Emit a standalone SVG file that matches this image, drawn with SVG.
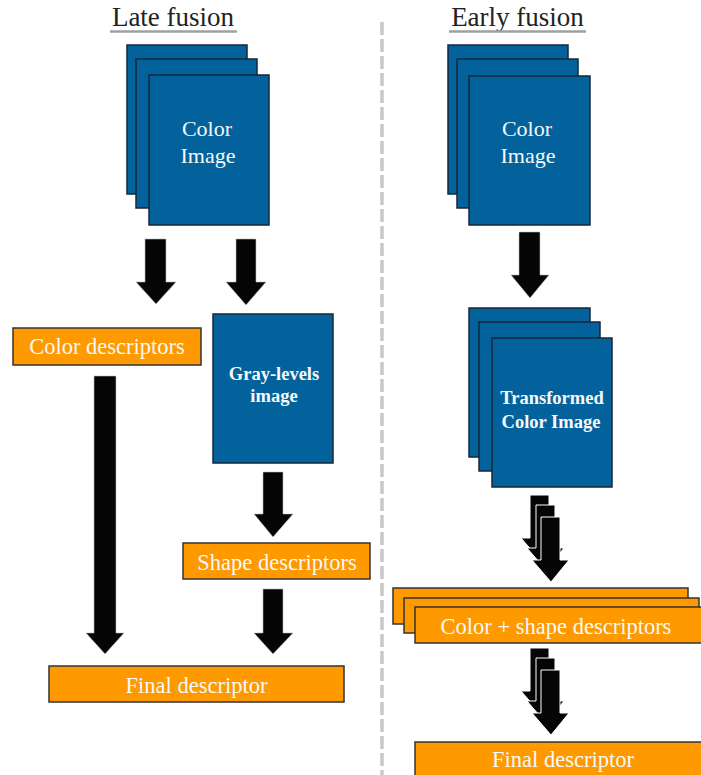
<svg xmlns="http://www.w3.org/2000/svg" width="701" height="775" viewBox="0 0 701 775">
<style>
.blue{fill:#03629b;stroke:#16283a;stroke-width:1.5}
.orange{fill:#fe9a00;stroke:#333;stroke-width:1.5}
text{font-family:'Liberation Serif','DejaVu Serif','Times New Roman',serif}
.t{fill:#f8f8f8;text-anchor:middle}
.tb{fill:#f8f8f8;text-anchor:middle;font-weight:bold;font-size:18.5px}
.title{fill:#222;text-anchor:middle;font-size:27px}
.arr{fill:#050505;stroke:#bbb;stroke-width:0.6}
.arrs{fill:#050505;stroke:#fff;stroke-width:1}
</style>
<rect width="701" height="775" fill="#fff"/>
<g id="divider"><line x1="382" y1="22" x2="382" y2="775" stroke="#c8c8c8" stroke-width="3.5" stroke-dasharray="13 4"/></g>
<g id="title-late"><text class="title" font-family="Liberation Serif, serif" x="173" y="26">Late fusion</text><line x1="110" y1="31.5" x2="237" y2="31.5" stroke="#a0a0a0" stroke-width="2.5"/></g>
<g id="title-early"><text class="title" font-family="Liberation Serif, serif" x="517.5" y="26">Early fusion</text><line x1="449" y1="31.5" x2="586" y2="31.5" stroke="#a0a0a0" stroke-width="2.5"/></g>
<g id="color-image-left">
<rect class="blue" x="127" y="45" width="120" height="149"/>
<rect class="blue" x="136" y="59" width="121" height="149"/>
<rect class="blue" x="149" y="75" width="120" height="150"/>
<text class="t" font-family="Liberation Serif, serif" font-size="22" x="207" y="136">Color</text>
<text class="t" font-family="Liberation Serif, serif" font-size="22" x="208" y="163">Image</text>
</g>
<g id="color-image-right">
<rect class="blue" x="448" y="45" width="120" height="149"/>
<rect class="blue" x="457" y="59" width="121" height="149"/>
<rect class="blue" x="469" y="76" width="121" height="149"/>
<text class="t" font-family="Liberation Serif, serif" font-size="22" x="527" y="136">Color</text>
<text class="t" font-family="Liberation Serif, serif" font-size="22" x="528" y="163">Image</text>
</g>
<g id="color-descriptors"><rect class="orange" x="13" y="328" width="188" height="37"/><text class="t" font-family="Liberation Serif, serif" font-size="22.5" x="107" y="354">Color descriptors</text></g>
<g id="gray-levels"><rect class="blue" x="213" y="314" width="120" height="149"/><text class="tb" font-family="Liberation Serif, serif" x="274" y="380">Gray-levels</text><text class="tb" font-family="Liberation Serif, serif" x="274" y="402">image</text></g>
<g id="shape-descriptors"><rect class="orange" x="183" y="543" width="187" height="36"/><text class="t" font-family="Liberation Serif, serif" font-size="22.5" x="277" y="570">Shape descriptors</text></g>
<g id="final-left"><rect class="orange" x="49" y="666" width="295" height="36"/><text class="t" font-family="Liberation Serif, serif" font-size="22.5" x="196.5" y="693">Final descriptor</text></g>
<g id="transformed">
<rect class="blue" x="469" y="308" width="121" height="149"/>
<rect class="blue" x="479" y="322" width="121" height="149"/>
<rect class="blue" x="492" y="338" width="120" height="149"/>
<text class="tb" font-family="Liberation Serif, serif" x="552" y="404">Transformed</text>
<text class="tb" font-family="Liberation Serif, serif" x="551" y="428">Color Image</text>
</g>
<g id="color-shape">
<rect class="orange" x="393" y="588" width="295" height="36"/>
<rect class="orange" x="404" y="598" width="295" height="35"/>
<rect class="orange" x="415" y="607" width="295" height="36"/>
<text class="t" font-family="Liberation Serif, serif" font-size="22.5" x="556" y="634">Color + shape descriptors</text>
</g>
<g id="final-right"><rect class="orange" x="415" y="742" width="295" height="40"/><text class="t" font-family="Liberation Serif, serif" font-size="22.5" x="563" y="767">Final descriptor</text></g>
<g id="connectors">
<path class="arr" d="M145,239 H166 V282 H176 L156,304 L136,282 H145 Z"/>
<path class="arr" d="M236,239 H256 V282 H266 L246,305 L226,282 H236 Z"/>
<path class="arr" d="M94,376 H116 V633 H124 L105,654 L86,633 H94 Z"/>
<path class="arr" d="M263,472 H283 V514 H293 L273,537 L254,514 H263 Z"/>
<path class="arr" d="M263,589 H283 V633 H293 L273,654 L254,633 H263 Z"/>
<path class="arr" d="M519,232 H540 V275 H549 L530,298 L511,275 H519 Z"/>
<g>
<path class="arrs" d="M530,495 H549 V538 H558 L540,560 L521,538 H530 Z"/>
<path class="arrs" d="M536,505 H555 V548 H564 L546,570 L527,548 H536 Z"/>
<path class="arrs" d="M541,517 H560 V560 H569 L551,582 L532,560 H541 Z"/>
</g>
<g>
<path class="arrs" d="M530,648 H549 V691 H558 L540,713 L521,691 H530 Z"/>
<path class="arrs" d="M536,658 H555 V701 H564 L546,723 L527,701 H536 Z"/>
<path class="arrs" d="M541,670 H560 V713 H569 L551,735 L532,713 H541 Z"/>
</g>
</g>
</svg>
